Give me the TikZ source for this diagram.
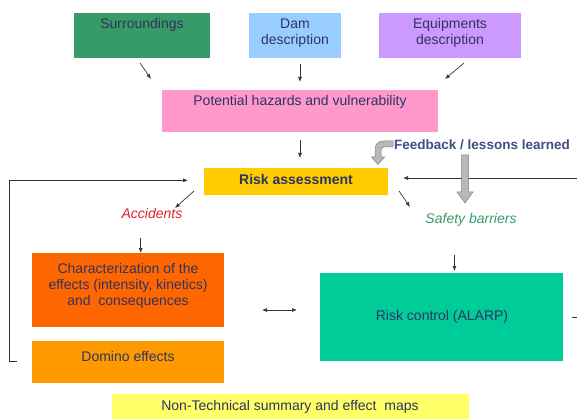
\documentclass[tikz,border=0pt]{standalone}
\usepackage{fontspec}
\setmainfont{Liberation Sans}
\usetikzlibrary{arrows.meta}
\definecolor{cSur}{HTML}{379B68}
\definecolor{cDam}{HTML}{99CCFF}
\definecolor{cEqu}{HTML}{CC99FF}
\definecolor{cPot}{HTML}{FF99CC}
\definecolor{cRisk}{HTML}{FFCC00}
\definecolor{cChar}{HTML}{FF6600}
\definecolor{cDom}{HTML}{FF9900}
\definecolor{cCtrl}{HTML}{00CC99}
\definecolor{cNT}{HTML}{FFFF66}
\definecolor{cTxt}{HTML}{2E3461}
\definecolor{cFeed}{HTML}{3F4F80}
\definecolor{cAcc}{HTML}{DD2233}
\definecolor{cSaf}{HTML}{3A9A6A}
\definecolor{cLine}{HTML}{333333}
\begin{document}
\begin{tikzpicture}[x=1pt,y=-1pt,
  box/.style={draw=none,inner sep=0pt,outer sep=0pt,anchor=north west},
  txt/.style={inner sep=0pt,text=cTxt,align=center,font=\fontsize{14}{16}\selectfont},
  arr/.style={draw=cLine,line width=0.7pt,-{Latex[length=5pt,width=4pt]}},
  ln/.style={draw=cLine,line width=0.7pt},
  gray arrow/.style={fill=black!28,draw=black!50,line width=0.5pt}]
\useasboundingbox (0,0) rectangle (577,419);
\fill[white] (0,0) rectangle (577,419);
% boxes
\node[box,fill=cSur,minimum width=136,minimum height=45] (sur) at (74,13) {};
\node[box,fill=cDam,minimum width=92,minimum height=45] (dam) at (249,13) {};
\node[box,fill=cEqu,minimum width=142,minimum height=45] (equ) at (379,13) {};
\node[box,fill=cPot,minimum width=276,minimum height=42] (pot) at (162,90.5) {};
\node[box,fill=cRisk,minimum width=184,minimum height=27] (risk) at (204,168) {};
\node[box,fill=cChar,minimum width=192,minimum height=74] (char) at (32,253) {};
\node[box,fill=cDom,minimum width=192,minimum height=42] (dom) at (32,341) {};
\node[box,fill=cCtrl,minimum width=243,minimum height=88] (ctrl) at (319.5,273) {};
\node[box,fill=cNT,minimum width=357,minimum height=26] (nt) at (111.5,394) {};
% texts
\node[txt] (surT) at (142,25) {Surroundings};
\node[txt] (damT) at (295,33) {Dam\\description};
\node[txt] (equT) at (450,33) {Equipments\\description};
\node[txt] (potT) at (300,102) {Potential hazards and vulnerability};
\node[txt,font=\fontsize{14}{16}\selectfont\bfseries] (riskT) at (296,179.5) {Risk assessment};
\node[txt,text=cFeed,font=\fontsize{13.5}{16}\selectfont\bfseries] (feed) at (482,145) {Feedback / lessons learned};
\node[txt,text=cAcc,font=\fontsize{14}{16}\selectfont\itshape] (acc) at (152,214) {Accidents};
\node[txt,text=cSaf,font=\fontsize{14}{16}\selectfont\itshape] (saf) at (471,219.5) {Safety barriers};
\node[txt] (charT) at (128,286) {Characterization of the\\effects (intensity, kinetics)\\and\ \ consequences};
\node[txt] (domT) at (128,356) {Domino effects};
\node[txt] (ctrlT) at (442,317) {Risk control (ALARP)};
\node[txt] (ntT) at (290,407) {Non-Technical summary and effect\ \ maps};
% short arrows
\coordinate (a1) at (140,63); \coordinate (b1) at (151,79);
\coordinate (a2) at (300,64); \coordinate (b2) at (300,82);
\coordinate (a3) at (464,63); \coordinate (b3) at (445,79);
\coordinate (a4) at (300,140); \coordinate (b4) at (300,158);
\coordinate (a5) at (194,191); \coordinate (b5) at (175,208);
\coordinate (a6) at (399,191); \coordinate (b6) at (410,207);
\coordinate (a7) at (140.7,238); \coordinate (b7) at (140.7,253);
\coordinate (a8) at (454.5,255); \coordinate (b8) at (454.5,271);
\coordinate (a9) at (262,310); \coordinate (b9) at (297,310);
\draw[arr] (a1) -- (b1);
\draw[arr] (a2) -- (b2);
\draw[arr] (a3) -- (b3);
\draw[arr] (a4) -- (b4);
\draw[arr] (a5) -- (b5);
\draw[arr] (a6) -- (b6);
\draw[arr] (a7) -- (b7);
\draw[arr] (a8) -- (b8);
\draw[arr,{Latex[length=5pt,width=4pt]}-{Latex[length=5pt,width=4pt]}] (a9) -- (b9);
% loops
\coordinate (lb) at (16.5,361); \coordinate (lc) at (9,361); \coordinate (lt) at (9,180.3); \coordinate (le) at (188,180.3);
\draw[ln] (lb) -- (lc) -- (lt);
\draw[arr] (lt) -- (le);
\coordinate (rs) at (577,178); \coordinate (re) at (403,178);
\draw[arr] (rs) -- (re);
\coordinate (st1) at (572,317.5); \coordinate (st2) at (577,317.5);
\draw[ln] (st1) -- (st2);
% gray block arrow (feedback down)
\draw[gray arrow] (461.5,155) -- (468.5,155) -- (468.5,192) -- (473,192) -- (465,203) -- (457,192) -- (461.5,192) -- cycle;
% curved gray arrow
\draw[gray arrow] (393,141) -- (384,141) .. controls (378,141) and (375,144) .. (375,150) -- (375,157) -- (371.5,157) -- (378,164.5) -- (384.5,157) -- (381,157) -- (381,150) .. controls (381,148) and (382,147) .. (384,147) -- (393,147) -- cycle;
\end{tikzpicture}
\end{document}
